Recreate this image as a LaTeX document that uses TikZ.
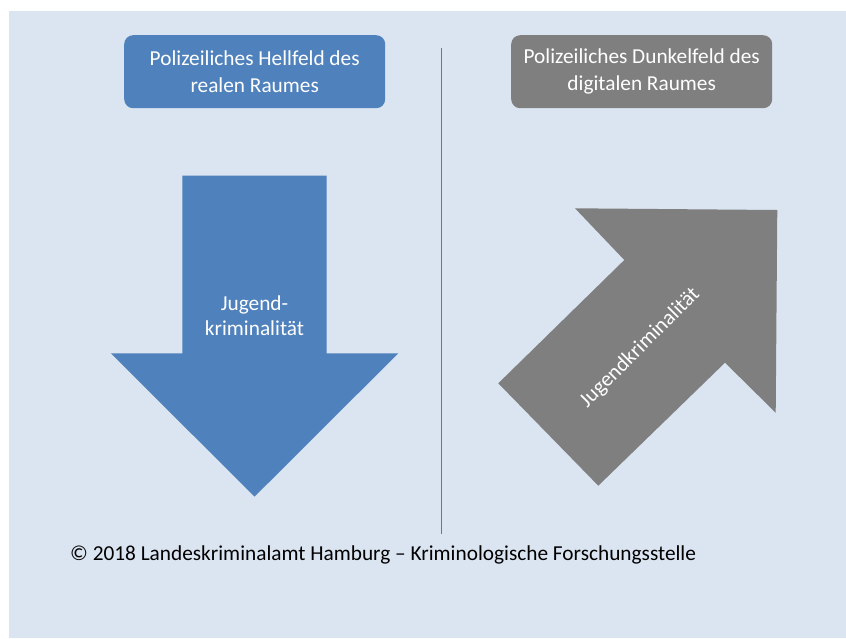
\documentclass[tikz,border=0pt]{standalone}
\usepackage{fontspec}
\setmainfont{Carlito}
\definecolor{bgblue}{HTML}{DBE5F1}
\definecolor{hellblue}{HTML}{4F81BD}
\definecolor{dunkelgray}{HTML}{7F7F7F}
\definecolor{lineblue}{HTML}{4A7EBB}
\begin{document}
\begin{tikzpicture}[x=1pt, y=-1pt,
      box/.style={rounded corners=9pt, minimum width=261pt, minimum height=73pt,
        inner sep=0pt, align=center, text=white, font=\fontsize{21.3}{26.7}\selectfont},
      arrowtext/.style={align=center, text=white, inner sep=0pt,
        font=\fontsize{21.3}{25}\selectfont}
    ]
    \useasboundingbox (0,0) rectangle (846,638);
    \fill[bgblue] (9,11) rectangle (846,638);
    
    % left side: real space
    \node[box, fill=hellblue] (hell) at (254.7,71.7) {Polizeiliches Hellfeld des\\realen Raumes};
    \fill[hellblue] (182.3,175.7) -- (326.7,175.7) -- (326.7,353.3) -- (398.3,353.3)
      -- (254.5,496.7) -- (111,353.3) -- (182.3,353.3) -- cycle;
    \node[arrowtext] (down) at (254.5,315.5) {Jugend-\\kriminalität};
    
    % divider
    \coordinate (top) at (441.5,48);
    \coordinate (bot) at (441.5,534);
    \draw[lineblue, line width=0.8pt] (top) -- (bot);
    
    % right side: digital space
    \node[box, fill=dunkelgray] (dunkel) at (641.7,71.7) {Polizeiliches Dunkelfeld des\\digitalen Raumes};
    \fill[dunkelgray] (575,208.3) -- (777.3,210) -- (775.7,412.7) -- (725,362.7)
      -- (598.3,485.7) -- (498.3,383.3) -- (624.3,260) -- cycle;
    \node[arrowtext, rotate=45] (up) at (640,348) {Jugendkriminalität};
    
    % footer
    \node[anchor=west, inner sep=0pt, font=\fontsize{21.3}{25}\selectfont] (credit) at (70,555)
      {© 2018 Landeskriminalamt Hamburg – Kriminologische Forschungsstelle};
    
    \end{tikzpicture}
\end{document}
